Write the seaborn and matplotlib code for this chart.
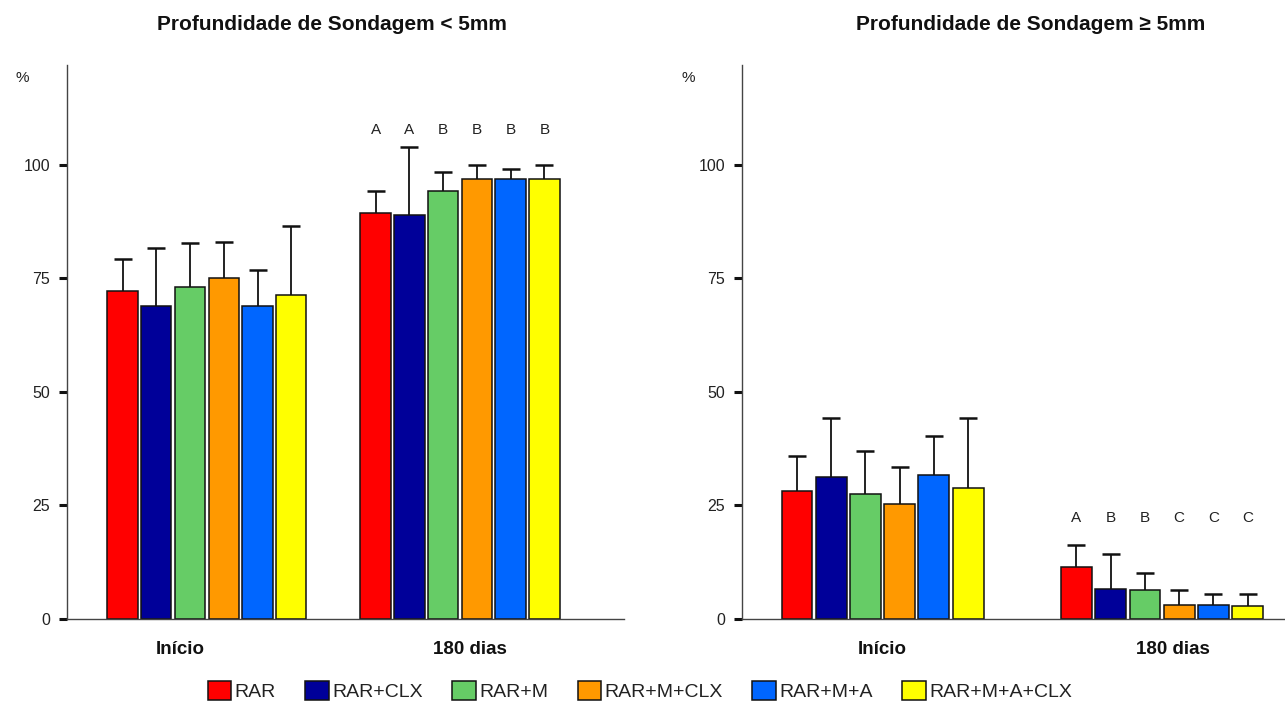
import matplotlib
matplotlib.use("Agg")
import matplotlib.pyplot as plt
from matplotlib.container import BarContainer
import seaborn as sns
import pandas as pd

# ---------------- data ----------------
groups = ["Início", "180 dias"]
treatments = ["RAR", "RAR+CLX", "RAR+M", "RAR+M+CLX", "RAR+M+A", "RAR+M+A+CLX"]
colors = ["#FF0000", "#000099", "#66CC66", "#FF9900", "#0066FF", "#FFFF00"]

less5_inicio = [72.3, 68.9, 73.1, 75.2, 68.9, 71.3]
less5_inicio_sd = [7.0, 12.7, 9.6, 7.8, 7.9, 15.3]
less5_180 = [89.4, 89.0, 94.2, 97.0, 97.0, 97.0]
less5_180_sd = [4.8, 15.0, 4.2, 2.9, 2.0, 2.9]

ge5_inicio = [28.2, 31.3, 27.5, 25.4, 31.7, 28.9]
ge5_inicio_sd = [7.6, 12.9, 9.5, 8.0, 8.6, 15.3]
ge5_180 = [11.5, 6.7, 6.3, 3.1, 3.1, 2.8]
ge5_180_sd = [4.9, 7.7, 3.9, 3.2, 2.5, 2.8]

letters_less5 = ["A", "A", "B", "B", "B", "B"]
letters_ge5 = ["A", "B", "B", "C", "C", "C"]

title_less5 = "Profundidade de Sondagem < 5mm"
title_ge5 = "Profundidade de Sondagem ≥ 5mm"
yticks = [0, 25, 50, 75, 100]

# ---------------- style ----------------
sns.set_style("ticks")
plt.rcParams["font.family"] = ["Liberation Sans", "DejaVu Sans"]

fig = plt.figure(figsize=(12.85, 7.04), dpi=100)
fig.patch.set_facecolor("white")

ax1 = fig.add_axes([0.0521, 0.1207, 0.4335, 0.787])
ax2 = fig.add_axes([0.5774, 0.1207, 0.4226, 0.787])


def build(vals_inicio, vals_180):
    rows = []
    for t, v in zip(treatments, vals_inicio):
        rows.append({"grupo": groups[0], "tratamento": t, "valor": v})
    for t, v in zip(treatments, vals_180):
        rows.append({"grupo": groups[1], "tratamento": t, "valor": v})
    return pd.DataFrame(rows)


def panel(ax, vals_inicio, sd_inicio, vals_180, sd_180, letters, letter_y,
          width, xlim, label_pos):
    df = build(vals_inicio, vals_180)
    sns.barplot(data=df, x="grupo", y="valor", hue="tratamento",
                order=groups, hue_order=treatments, palette=colors,
                errorbar=None, width=width, gap=0.1, edgecolor="#111111",
                linewidth=1.1, saturation=1, ax=ax)
    bar_conts = [c for c in ax.containers if isinstance(c, BarContainer)]
    sds = [sd_inicio, sd_180]
    vals = [vals_inicio, vals_180]
    for i, cont in enumerate(bar_conts):
        for g, bar in enumerate(cont.patches):
            xc = bar.get_x() + bar.get_width() / 2
            eb = ax.errorbar(xc, vals[g][i], yerr=[[0], [sds[g][i]]],
                             fmt="none", ecolor="#111111", elinewidth=1.3,
                             capsize=6.5, capthick=1.8, zorder=1)
            # keep only the upper cap
            for cap in eb[1]:
                if abs(cap.get_ydata()[0] - vals[g][i]) < 1e-9:
                    cap.set_visible(False)
            if g == 1:
                ax.text(xc, letter_y, letters[i], ha="center", va="center",
                        fontsize=11, color="#222222")
    ax.set_ylim(0, 122)
    ax.set_xlim(*xlim)
    ax.set_yticks(yticks)
    ax.set_xticks(label_pos, groups)
    ax.set_xlabel("")
    ax.set_ylabel("")
    for s in ["top", "right"]:
        ax.spines[s].set_visible(False)
    for s in ["left", "bottom"]:
        ax.spines[s].set_color("#444444")
        ax.spines[s].set_linewidth(1.0)
    ax.tick_params(axis="y", direction="out", length=6, width=2.2,
                   color="#111111", labelsize=11.5, labelcolor="#222222", pad=6)
    ax.tick_params(axis="x", length=0, pad=16, labelsize=13.5)
    for lab in ax.get_xticklabels():
        lab.set_fontweight("bold")
        lab.set_color("#111111")
    if ax.get_legend() is not None:
        ax.get_legend().remove()
    return bar_conts


conts1 = panel(ax1, less5_inicio, less5_inicio_sd, less5_180, less5_180_sd,
               letters_less5, 107.7, 0.8, (-0.553, 1.648), [-0.107, 1.04])
panel(ax2, ge5_inicio, ge5_inicio_sd, ge5_180, ge5_180_sd,
      letters_ge5, 22.3, 0.735, (-0.503, 1.44), [0.0, 1.04])

fig.text(0.2584, 0.9645, title_less5, ha="center", va="center",
         fontsize=15, fontweight="bold", color="#111111")
fig.text(0.802, 0.9645, title_ge5, ha="center", va="center",
         fontsize=15, fontweight="bold", color="#111111")
fig.text(0.0171, 0.889, "%", ha="center", va="center", fontsize=11,
         color="#222222")
fig.text(0.5354, 0.889, "%", ha="center", va="center", fontsize=11,
         color="#222222")

leg = fig.legend([c.patches[0] for c in conts1], treatments,
                 loc="center", bbox_to_anchor=(0.498, 0.0185), ncol=6,
                 frameon=False, fontsize=14, handlelength=1.2,
                 handleheight=1.1, handletextpad=0.2, columnspacing=1.5,
                 borderpad=0)
for t in leg.get_texts():
    t.set_color("#222222")

fig.savefig("out.png", dpi=100, facecolor="white")
